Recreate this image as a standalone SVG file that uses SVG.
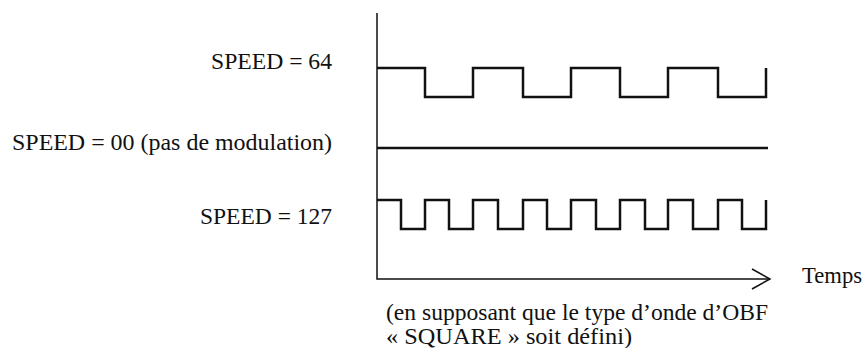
<svg xmlns="http://www.w3.org/2000/svg" width="864" height="348" viewBox="0 0 864 348">
<style>
text{font-family:"Liberation Serif","Times New Roman",serif;font-size:23px;fill:#111}
.axis{fill:none;stroke:#111;stroke-width:1.5}
.wave{fill:none;stroke:#111;stroke-width:2.5;stroke-linejoin:miter;stroke-linecap:butt}
</style>
<rect width="864" height="348" fill="#fff"/>
<g id="labels">
<text x="332" y="69" text-anchor="end" textLength="121" lengthAdjust="spacingAndGlyphs">SPEED = 64</text>
<text x="332" y="150" text-anchor="end" textLength="320" lengthAdjust="spacingAndGlyphs">SPEED = 00 (pas de modulation)</text>
<text x="332" y="224" text-anchor="end" textLength="132" lengthAdjust="spacingAndGlyphs">SPEED = 127</text>
<text x="802" y="283" textLength="60" lengthAdjust="spacingAndGlyphs">Temps</text>
<text x="386" y="320" textLength="382" lengthAdjust="spacingAndGlyphs">(en supposant que le type d’onde d’OBF</text>
<text x="386" y="344" textLength="246" lengthAdjust="spacingAndGlyphs">« SQUARE » soit défini)</text>
</g>
<g id="axes">
<path class="axis" d="M377,13 V279 H769"/>
<path class="axis" d="M752,269 L770,279 L752,289"/>
</g>
<g id="wave64">
<path class="wave" d="M377,68 H425 V97 H473 V68 H523 V97 H571 V68 H620 V97 H668 V68 H718 V97 H766 V68"/>
</g>
<g id="wave00">
<path class="wave" d="M377,148 H768"/>
</g>
<g id="wave127">
<path class="wave" d="M377,200 H401 V229 H425 V200 H449 V229 H473 V200 H498 V229 H523 V200 H547 V229 H571 V200 H596 V229 H620 V200 H645 V229 H668 V200 H693 V229 H718 V200 H742 V229 H766 V200"/>
</g>
</svg>
